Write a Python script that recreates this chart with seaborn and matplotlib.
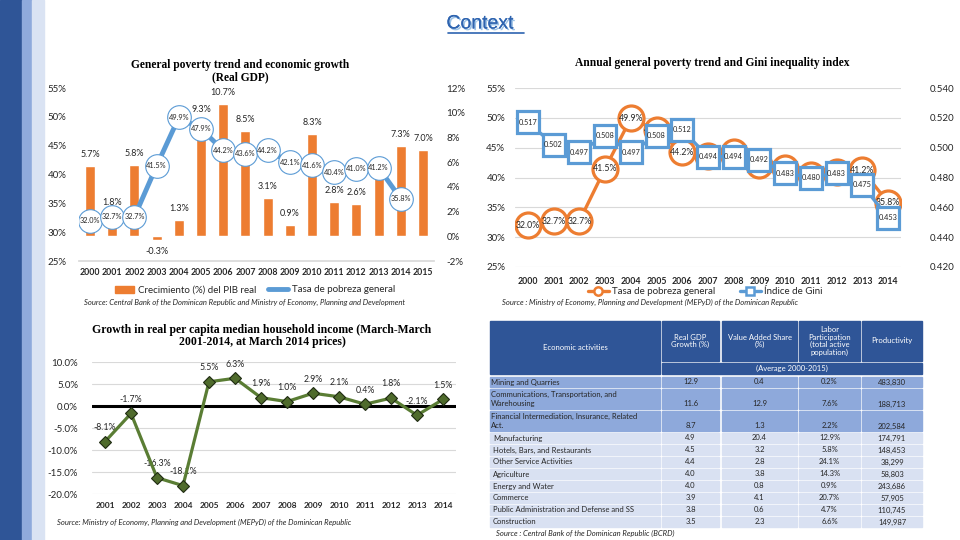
import numpy as np
import pandas as pd
import matplotlib
matplotlib.use("Agg")
import matplotlib.pyplot as plt
import matplotlib.patheffects as pe
import seaborn as sns
from matplotlib.patches import Rectangle, Patch
from matplotlib.lines import Line2D
from matplotlib.ticker import FuncFormatter, MultipleLocator

# ---- data ----
gdp_years = list(range(2000, 2016))
gdp_growth = [5.7, 1.8, 5.8, -0.3, 1.3, 9.3, 10.7, 8.5, 3.1, 0.9, 8.3, 2.8, 2.6, 4.8, 7.3, 7.0]

pov_years = list(range(2000, 2015))
poverty = [32.0, 32.7, 32.7, 41.5, 49.9, 47.9, 44.2, 43.6, 44.2, 42.1, 41.6, 40.4, 41.0, 41.2, 35.8]
gini = [0.517, 0.502, 0.497, 0.508, 0.497, 0.508, 0.512, 0.494, 0.494, 0.492,
        0.483, 0.480, 0.483, 0.475, 0.453]
# poverty labels in the Gini chart that are not covered by a Gini box
pov_label_shown = [True, True, True, True, True, True, True, False, False, False,
                   False, False, False, True, True]

inc_years = list(range(2001, 2015))
income_growth = [-8.1, -1.7, -16.3, -18.1, 5.5, 6.3, 1.9, 1.0, 2.9, 2.1, 0.4, 1.8, -2.1, 1.5]

activities = ["Mining and Quarries",
              "Communications, Transportation, and\nWarehousing",
              "Financial Intermediation, Insurance, Related\nAct.",
              "Manufacturing", "Hotels, Bars, and Restaurants", "Other Service Activities",
              "Agriculture", "Energy and Water", "Commerce",
              "Public Administration and Defense and SS", "Construction"]
real_gdp = [12.9, 11.6, 8.7, 4.9, 4.5, 4.4, 4.0, 4.0, 3.9, 3.8, 3.5]
va_share = [0.4, 12.9, 1.3, 20.4, 3.2, 2.8, 3.8, 0.8, 4.1, 0.6, 2.3]
labor_part = [0.2, 7.6, 2.2, 12.9, 5.8, 24.1, 14.3, 0.9, 20.7, 4.7, 6.6]
productivity = [483830, 188713, 202584, 174791, 148453, 38299, 58803, 243686, 57905, 110745, 149987]
table_headers = ["Economic activities", "Real GDP\nGrowth (%)", "Value Added Share\n(%)",
                 "Labor\nParticipation\n(total active\npopulation)", "Productivity"]

ORANGE = "#ED7D31"
BLUE = "#5B9BD5"
GREEN = "#5A7D34"
TXT = "#262626"

sns.set_theme(style="white")
plt.rcParams["font.family"] = ["Lato", "DejaVu Sans"]
plt.rcParams["axes.unicode_minus"] = False

fig = plt.figure(figsize=(9.6, 5.4), dpi=100)


def px_axes(x, y, w, h):
    return fig.add_axes([x / 960, 1 - (y + h) / 540, w / 960, h / 540])


def clean(ax):
    for s in ax.spines.values():
        s.set_visible(False)
    ax.tick_params(length=0, colors=TXT)


# background stripes and slide title
fig.patches.append(Rectangle((0, 0), 22 / 960, 1, transform=fig.transFigure, color="#2F5597"))
fig.patches.append(Rectangle((22 / 960, 0), 10 / 960, 1, transform=fig.transFigure, color="#8FAADC"))
fig.patches.append(Rectangle((32 / 960, 0), 12 / 960, 1, transform=fig.transFigure, color="#DAE3F3"))
fig.text(0.5, 1 - 24 / 540, "Context", ha="center", va="center", fontsize=14, color="#2E64B0",
         family=["Liberation Sans", "DejaVu Sans"],
         path_effects=[pe.withSimplePatchShadow(offset=(1.2, -1.2), shadow_rgbFace="#9DC3E6", alpha=1), pe.Normal()])
fig.lines.append(Line2D([448 / 960, 524 / 960], [1 - 33 / 540] * 2, transform=fig.transFigure,
                        color="#2E64B0", lw=1.2))

serif = ["Liberation Serif", "DejaVu Serif"]

# ---- top left: GDP growth bars + poverty line ----
ax1 = px_axes(79, 88, 355, 173)
ax1r = ax1.twinx()
df1 = pd.DataFrame({"year": gdp_years, "gdp": gdp_growth})
sns.barplot(data=df1, x="year", y="gdp", color=ORANGE, saturation=1, width=0.45, ax=ax1r)
ax1r.set_ylim(-2, 12)
ax1r.yaxis.set_major_locator(MultipleLocator(2))
ax1r.yaxis.set_major_formatter(FuncFormatter(lambda v, p: f"{v:.0f}%"))
ax1r.tick_params(axis="y", labelsize=7, pad=9)
ax1r.set_xlabel("")
ax1r.set_ylabel("")
for i, v in enumerate(gdp_growth):
    ax1r.annotate(f"{v}%", (i, v), xytext=(0, 5 if v >= 0 else -5), textcoords="offset points",
                  ha="center", va="bottom" if v >= 0 else "top", fontsize=6.5, color=TXT)

sns.lineplot(x=np.arange(len(poverty)), y=poverty, ax=ax1, color=BLUE, lw=3.5,
             marker="o", markersize=17, markerfacecolor="white", markeredgecolor=BLUE,
             markeredgewidth=0.8)
for i, v in enumerate(poverty):
    ax1.text(i, v, f"{v}%", ha="center", va="center", fontsize=5.3, color=TXT)
ax1.set_zorder(ax1r.get_zorder() + 1)
ax1.patch.set_visible(False)
ax1.set_ylim(25, 55)
ax1.set_xlim(-0.5, len(gdp_years) - 0.5)
ax1.set_xticks(range(len(gdp_years)))
ax1.set_xticklabels(gdp_years, fontsize=6.3, fontweight="bold")
ax1.yaxis.set_major_locator(MultipleLocator(5))
ax1.yaxis.set_major_formatter(FuncFormatter(lambda v, p: f"{v:.0f}%"))
ax1.tick_params(axis="y", labelsize=7, pad=9)
ax1.tick_params(axis="x", pad=5)
clean(ax1)
clean(ax1r)
ax1.spines["bottom"].set_visible(True)
ax1.spines["bottom"].set_color("#D9D9D9")
fig.text(240 / 960, 1 - 71 / 540, "General poverty trend and economic growth\n(Real GDP)", ha="center",
         va="center", fontsize=8.3, fontweight="bold", family=serif, color="black", linespacing=1.1)
fig.legend(handles=[Patch(color=ORANGE, label="Crecimiento (%) del PIB real"),
                    Line2D([], [], color=BLUE, lw=3.5, label="Tasa de pobreza general")],
           loc="center", bbox_to_anchor=(255 / 960, 1 - 290 / 540), ncol=2, frameon=False,
           fontsize=7, handlelength=2, handleheight=0.7, columnspacing=1.2, handletextpad=0.4)
fig.text(245 / 960, 1 - 302 / 540,
         "Source: Central Bank of the Dominican Republic and Ministry of Economy, Planning and Development",
         ha="center", va="center", fontsize=5.5, style="italic", color=TXT)

# ---- top right: poverty + Gini ----
ax2 = px_axes(515, 88, 386, 179)
ax2r = ax2.twinx()
xp = np.arange(len(pov_years))
ax2.set_zorder(ax2r.get_zorder() - 1)
sns.lineplot(x=xp, y=poverty, ax=ax2, color=ORANGE, lw=2.4, marker="o", markersize=18,
             markerfacecolor="white", markeredgecolor=ORANGE, markeredgewidth=2.3, zorder=3)
for i, v in enumerate(poverty):
    if pov_label_shown[i]:
        ax2.text(i, v, f"{v}%", ha="center", va="center", fontsize=6.3, color=TXT, zorder=4)
sns.lineplot(x=xp, y=gini, ax=ax2r, color=BLUE, lw=2.4, marker="s", markersize=16,
             markerfacecolor="white", markeredgecolor=BLUE, markeredgewidth=2.3, zorder=3)
for i, v in enumerate(gini):
    ax2r.text(i, v, f"{v:.3f}", ha="center", va="center", fontsize=5.3, color=TXT, zorder=4)
ax2r.patch.set_visible(False)
ax2.set_ylim(25, 55)
ax2r.set_ylim(0.42, 0.54)
ax2.set_xlim(-0.5, len(pov_years) - 0.5)
ax2.set_xticks(xp)
ax2.set_xticklabels(pov_years, fontsize=6.3, fontweight="bold")
ax2.yaxis.set_major_locator(MultipleLocator(5))
ax2.yaxis.set_major_formatter(FuncFormatter(lambda v, p: f"{v:.0f}%"))
ax2r.yaxis.set_major_locator(MultipleLocator(0.02))
ax2r.yaxis.set_major_formatter(FuncFormatter(lambda v, p: f"{v:.3f}"))
ax2.tick_params(axis="y", labelsize=7, pad=7)
ax2r.tick_params(axis="y", labelsize=7, pad=21)
ax2.tick_params(axis="x", pad=7)
ax2.grid(axis="y", color="#D9D9D9", lw=0.8)
ax2.set_axisbelow(True)
clean(ax2)
clean(ax2r)
fig.text(712 / 960, 1 - 63 / 540, "Annual general poverty trend and Gini inequality index", ha="center",
         va="center", fontsize=8.3, fontweight="bold", family=serif, color="black")
fig.legend(handles=[Line2D([], [], color=ORANGE, lw=2.4, marker="o", markersize=6, markerfacecolor="white",
                           markeredgewidth=1.8, label="Tasa de pobreza general"),
                    Line2D([], [], color=BLUE, lw=2.4, marker="s", markersize=6, markerfacecolor="white",
                           markeredgewidth=1.8, label="Índice de Gini")],
           loc="center", bbox_to_anchor=(705 / 960, 1 - 292 / 540), ncol=2, frameon=False,
           fontsize=7, handlelength=2.2, columnspacing=2.5, handletextpad=0.3)
fig.text(502 / 960, 1 - 302 / 540,
         "Source : Ministry of Economy, Planning and Development (MEPyD) of the Dominican Republic",
         ha="left", va="center", fontsize=5.5, style="italic", color=TXT)

# ---- bottom left: median household income growth ----
ax3 = px_axes(92, 362, 364, 132)
sns.lineplot(x=np.arange(len(inc_years)), y=income_growth, ax=ax3, color=GREEN, lw=2.3,
             marker="D", markersize=6.5, markerfacecolor="#4F6B2C", markeredgecolor="#1F2B12",
             markeredgewidth=0.8, zorder=4)
ax3.axhline(0, color="black", lw=2.2, zorder=3)
for i, v in enumerate(income_growth):
    ax3.annotate(f"{v}%", (i, v), xytext=(0, 7), textcoords="offset points", ha="center", va="bottom",
                 fontsize=6.3, color=TXT)
ax3.set_ylim(-20, 10)
ax3.set_xlim(-0.5, len(inc_years) - 0.5)
ax3.set_xticks(range(len(inc_years)))
ax3.set_xticklabels(inc_years, fontsize=6, fontweight="bold")
ax3.yaxis.set_major_locator(MultipleLocator(5))
ax3.yaxis.set_major_formatter(FuncFormatter(lambda v, p: f"{v:.1f}%"))
ax3.tick_params(axis="y", labelsize=7, pad=10)
ax3.tick_params(axis="x", pad=6)
ax3.grid(axis="y", color="#D9D9D9", lw=0.8)
ax3.set_axisbelow(True)
clean(ax3)
fig.text(262 / 960, 1 - 336 / 540, "Growth in real per capita median household income (March-March\n2001-2014, at March 2014 prices)",
         ha="center", va="center", fontsize=8.5, fontweight="bold", family=serif, color="black",
         linespacing=1.1)
fig.text(57 / 960, 1 - 522 / 540,
         "Source: Ministry of Economy, Planning and Development (MEPyD) of the Dominican Republic",
         ha="left", va="center", fontsize=5.5, style="italic", color=TXT)

# ---- bottom right: economic activities table ----
axt = fig.add_axes([0, 0, 1, 1])
axt.set_xlim(0, 960)
axt.set_ylim(540, 0)
axt.axis("off")
col_x = [490, 662, 722, 799, 862]
col_w = [170, 57, 75, 61, 60]
hdr_dark = "#2F5597"
axt.add_patch(Rectangle((col_x[0], 321), col_w[0], 53, color=hdr_dark))
axt.text(col_x[0] + col_w[0] / 2, 347.5, table_headers[0], ha="center", va="center", fontsize=5.5, color="white")
for j in range(1, 5):
    axt.add_patch(Rectangle((col_x[j], 321), col_w[j], 40, color=hdr_dark))
    axt.text(col_x[j] + col_w[j] / 2, 341, table_headers[j], ha="center", va="center", fontsize=5.5,
             color="white", linespacing=1.05)
axt.add_patch(Rectangle((col_x[1], 362.5), col_x[4] + col_w[4] - col_x[1], 11.5, color=hdr_dark))
axt.text((col_x[1] + col_x[4] + col_w[4]) / 2, 368.5, "(Average 2000-2015)", ha="center", va="center",
         fontsize=5.5, color="white")

y = 377
for r, name in enumerate(activities):
    lines = name.count("\n") + 1
    h = 10 * lines
    fc = "#8EA9DB" if r < 3 else "#D9E1F2"
    vals = [f"{real_gdp[r]:.1f}", f"{va_share[r]:.1f}", f"{labor_part[r]:.1f}%", f"{productivity[r]:,}"]
    axt.add_patch(Rectangle((col_x[0], y), col_w[0], h, color=fc))
    axt.text(col_x[0] + (1 if r < 3 else 3), y + h / 2, name, ha="left", va="center", fontsize=5.5,
             color=TXT, linespacing=1.2)
    for j in range(1, 5):
        axt.add_patch(Rectangle((col_x[j], y), col_w[j], h, color=fc))
        axt.text(col_x[j] + col_w[j] / 2, y + h - 5, vals[j - 1], ha="center", va="center",
                 fontsize=5.5, color=TXT)
    y += h + 2
axt.text(496, y + 4, "Source : Central Bank of the Dominican Republic (BCRD)", ha="left", va="center",
         fontsize=5.5, style="italic", color=TXT)

fig.savefig("out.png", dpi=100)
